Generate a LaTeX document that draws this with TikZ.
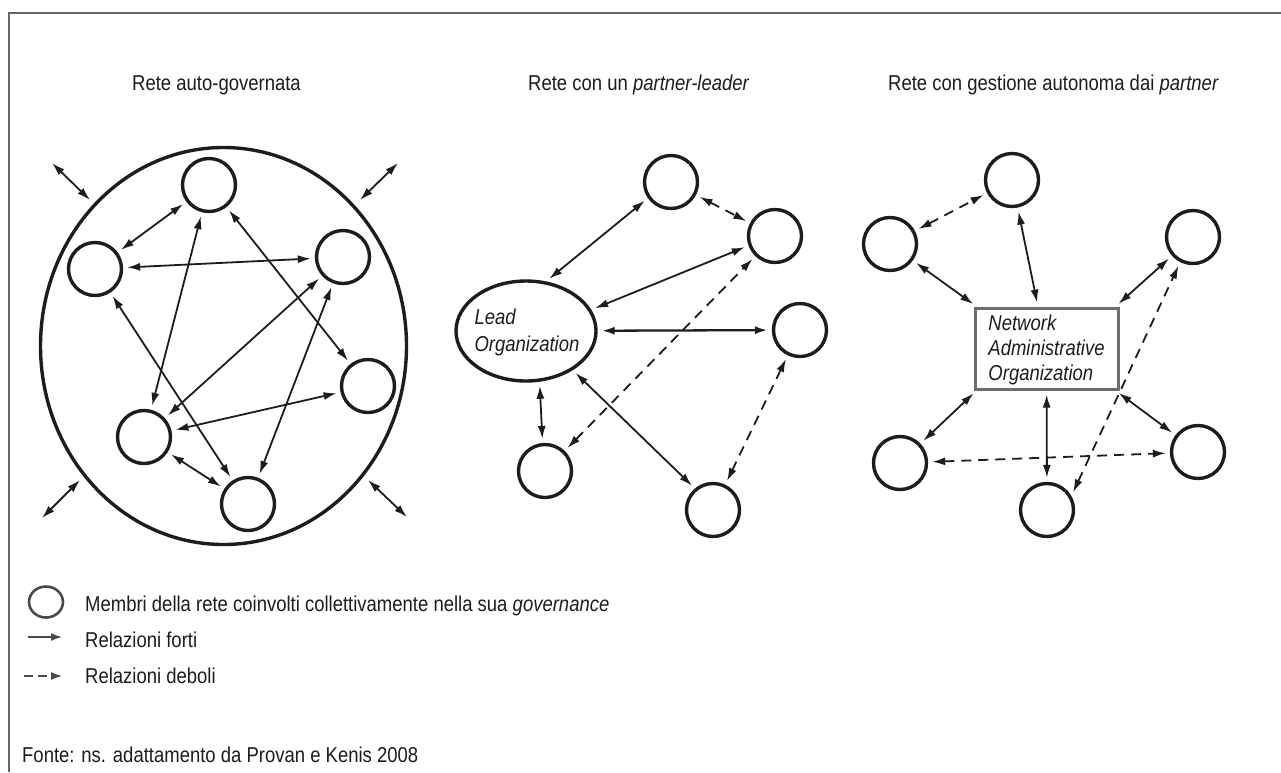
\documentclass[tikz,border=0pt]{standalone}
\usepackage{fontspec}
\setmainfont{Liberation Sans}[FakeStretch=0.86]
\usetikzlibrary{arrows.meta,shapes.geometric}
\definecolor{ink}{HTML}{1E1C1D}
\definecolor{framec}{HTML}{666666}
\definecolor{naogray}{HTML}{6E6E6E}
\definecolor{leggray}{HTML}{4A4A4A}
\newcommand\mytf{\fontsize{21.5}{25}\selectfont}
\tikzset{
  tip/.tip={Latex[length=13pt,width=8pt]},
  mem/.style={circle, draw=ink, line width=3.4pt, minimum size=53pt, inner sep=0pt},
  rel/.style={tip-tip, line width=1.8pt, draw=ink, shorten >=4pt, shorten <=4pt},
  weak/.style={rel, dash pattern=on 10pt off 7pt},
  ttl/.style={anchor=base west, inner sep=0pt, text=ink, font=\mytf},
  itxt/.style={align=left, inner sep=0pt, text=ink},
}
\begin{document}
\begin{tikzpicture}[x=1pt,y=-1pt]
\useasboundingbox (0,0) rectangle (1281,772);
% frame
\coordinate (fl) at (9,13);
\coordinate (fr) at (1281,13);
\coordinate (fb) at (9,772);
\draw[framec, line width=1.5pt] (fr) -- (fl) -- (fb);

% titles
\node[ttl] (t1) at (132,90) {Rete auto-governata};
\node[ttl] (t2) at (528,90) {Rete con un \textit{partner-leader}};
\node[ttl] (t3) at (888,90) {Rete con gestione autonoma dai \textit{partner}};

% ---------- left: self-governed ----------
\node[ellipse, draw=ink, line width=3.4pt, minimum width=366pt, minimum height=397pt, inner sep=0pt] (big) at (223.5,346) {};
\node[mem] (a1) at (209,185) {};
\node[mem] (a2) at (95,269) {};
\node[mem] (a3) at (343,257) {};
\node[mem] (a4) at (368,386) {};
\node[mem] (a5) at (144,437) {};
\node[mem] (a6) at (248,504) {};
\draw[rel] (a1) -- (a2);
\draw[rel] (a2) -- (a3);
\draw[rel] (a1) -- (a5);
\draw[rel] (a1) -- (a4);
\draw[rel] (a2) -- (a6);
\draw[rel] (a3) -- (a5);
\draw[rel] (a3) -- (a6);
\draw[rel] (a4) -- (a5);
\draw[rel] (a5) -- (a6);
% external arrows
\coordinate (e1a) at (52,163); \coordinate (e1b) at (90,200);
\coordinate (e2a) at (360,200); \coordinate (e2b) at (398,163);
\coordinate (e3a) at (42,518); \coordinate (e3b) at (80,480);
\coordinate (e4a) at (368,480); \coordinate (e4b) at (407,517);
\draw[rel, shorten >=0pt, shorten <=0pt] (e1a) -- (e1b);
\draw[rel, shorten >=0pt, shorten <=0pt] (e2a) -- (e2b);
\draw[rel, shorten >=0pt, shorten <=0pt] (e3a) -- (e3b);
\draw[rel, shorten >=0pt, shorten <=0pt] (e4a) -- (e4b);

% ---------- middle: lead organization ----------
\node[ellipse, draw=ink, line width=3.4pt, minimum width=140pt, minimum height=100pt, inner sep=0pt] (lead) at (526,331) {};
\node[itxt, font=\fontsize{21.5}{27}\selectfont\itshape] (leadtxt) at (527,332) {Lead\\Organization};
\node[mem] (b1) at (671,182) {};
\node[mem] (b2) at (775,236) {};
\node[mem] (b3) at (800,330) {};
\node[mem] (b4) at (545,471) {};
\node[mem] (b5) at (713,510) {};
\draw[rel] (lead.68) -- (b1.215);
\draw[weak] (b1) -- (b2);
\draw[rel] (lead.18) -- (b2.200);
\draw[weak] (b4) -- (b2);
\draw[rel, line width=2.3pt] (lead) -- (b3);
\draw[rel] (lead.-75) -- (b4.95);
\draw[rel] (lead.-40) -- (b5.130);
\draw[weak] (b3) -- (b5);

% ---------- right: network administrative organization ----------
\node[rectangle, draw=naogray, line width=3pt, minimum width=143pt, minimum height=81pt, inner sep=0pt] (nao) at (1046.5,348.5) {};
\node[itxt, font=\mytf\itshape] (naotxt) at (1046.5,350) {Network\\Administrative\\Organization};
\node[mem] (c1) at (1012,180) {};
\node[mem] (c2) at (890,244) {};
\node[mem] (c3) at (1193,237) {};
\node[mem] (c4) at (900,463) {};
\node[mem] (c5) at (1047,510) {};
\node[mem] (c6) at (1198,452) {};
\draw[weak] (c2) -- (c1);
\draw[rel] (c2) -- ([xshift=3pt]nao.north west);
\draw[rel] (c1) -- (nao);
\draw[rel] (c3) -- ([xshift=-4pt]nao.north east);
\draw[rel] ([xshift=3pt]nao.south west) -- (c4);
\draw[rel] (nao) -- (c5);
\draw[rel] ([xshift=-4pt]nao.south east) -- (c6);
\draw[weak] (c4) -- (c6);
\draw[weak] (c5.30) -- (c3.243);

% ---------- legend ----------
\node[ellipse, draw=leggray, line width=2.6pt, minimum width=34pt, minimum height=31pt, inner sep=0pt] (lc) at (46,602) {};
\node[ttl] (l1) at (85,611) {Membri della rete coinvolti collettivamente nella sua \textit{governance}};
\coordinate (s1) at (28,637); \coordinate (s2) at (63,637);
\draw[leggray, line width=2.6pt, -{Latex[length=12pt,width=8pt]}] (s1) -- (s2);
\node[ttl] (l2) at (85,647) {Relazioni forti};
\coordinate (w1) at (24,676); \coordinate (w2) at (63,676);
\draw[leggray, line width=2.6pt, dash pattern=on 9pt off 5pt, -{Latex[length=12pt,width=8pt]}] (w1) -- (w2);
\node[ttl] (l3) at (85,683) {Relazioni deboli};

\node[ttl] (src) at (22,762) {Fonte: ns. adattamento da Provan e Kenis 2008};
\end{tikzpicture}
\end{document}
